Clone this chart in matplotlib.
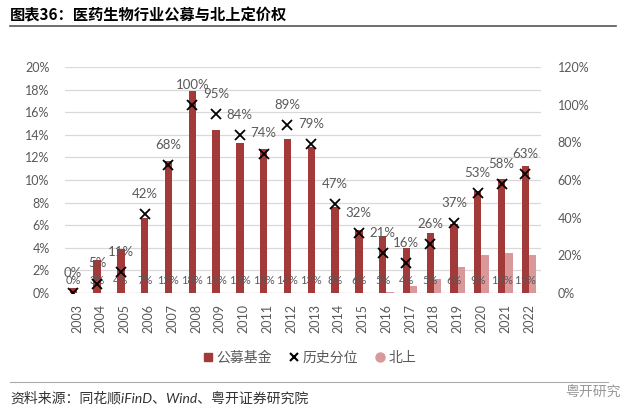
import matplotlib
matplotlib.use('Agg')
import matplotlib.pyplot as plt
from matplotlib.lines import Line2D
import numpy as np

plt.rcParams['font.family'] = ['Lato', 'Noto Sans CJK SC', 'DejaVu Sans']

years = [str(y) for y in range(2003, 2023)]
# 公募基金持仓占比 (%), left axis
fund = [0.4, 2.9, 3.9, 6.6, 11.7, 17.9, 14.4, 13.3, 12.7, 13.6,
        12.9, 7.6, 5.6, 5.0, 4.0, 5.3, 6.1, 9.0, 10.1, 11.2]
# 历史分位 (%), right axis
pct = [0, 5, 11, 42, 68, 100, 95, 84, 74, 89,
       79, 47, 32, 21, 16, 26, 37, 53, 58, 63]
# 北上 (%), left axis
north = [0, 0, 0, 0, 0, 0, 0, 0, 0, 0,
         0, 0, 0, 0.1, 0.65, 1.2, 2.3, 3.4, 3.5, 3.4]

red = '#A33A3A'
pink = '#D9999A'
gray = '#595959'

fig = plt.figure(figsize=(6.4, 4.2), dpi=100)
ax = fig.add_axes([0.1016, 0.3024, 0.7437, 0.5381])
ax2 = ax.twinx()

x = np.arange(len(years))
w = 0.31
ax.bar(x - w / 2, fund, w, color=red, zorder=2)
ax.bar(x + w / 2, north, w, color=pink, zorder=2)
ax2.plot(x - w / 2, pct, 'x', color='black', ms=7, mew=1.3, zorder=3)

for xi, v in zip(x, fund):
    ax.annotate(f"{round(v)}%", (xi - w / 2, 0), xytext=(0, 9), textcoords='offset points',
                ha='center', va='center', fontsize=8, color=gray, zorder=4)
for xi, v in zip(x, pct):
    ax2.annotate(f"{v}%", (xi - w / 2, v), xytext=(0, 14.5), textcoords='offset points',
                 ha='center', va='center', fontsize=9.5, color=gray, zorder=4)

ax.set_xlim(-0.5, len(years) - 0.5)
ax.set_ylim(0, 20)
ax2.set_ylim(0, 120)
ax.set_yticks(np.arange(0, 21, 2))
ax.set_yticklabels([f"{t}%" for t in range(0, 21, 2)])
ax2.set_yticks(np.arange(0, 121, 20))
ax2.set_yticklabels([f"{t}%" for t in range(0, 121, 20)])
ax.set_xticks(x)
ax.set_xticklabels(years, rotation=90)

ax.grid(axis='y', color='#D9D9D9', lw=0.9, zorder=0)
ax.set_axisbelow(True)
for a in (ax, ax2):
    for s in a.spines.values():
        s.set_visible(False)
    a.tick_params(length=0, colors=gray, labelsize=9)
ax.tick_params(axis='y', pad=11)
ax2.tick_params(axis='y', pad=12)
ax.tick_params(axis='x', pad=8)
ax.axhline(0, color='#D9D9D9', lw=0.9, zorder=1)

handles = [Line2D([], [], ls='none', marker='s', color=red, ms=6),
           Line2D([], [], ls='none', marker='x', color='black', ms=6, mew=1.5),
           Line2D([], [], ls='none', marker='o', color=pink, ms=6.5)]
fig.legend(handles, ['公募基金', '历史分位', '北上'], loc='center', bbox_to_anchor=(0.483, 0.15),
           ncol=3, frameon=False, fontsize=10, handlelength=0.8, handletextpad=0.2,
           columnspacing=1.2, labelcolor=gray)

fig.text(0.016, 0.964, '图表36：医药生物行业公募与北上定价权', fontsize=11, fontweight='bold',
         va='center', ha='left', family=['Noto Sans CJK SC'])
fig.add_artist(Line2D([0.016, 0.962], [0.938, 0.938], color='#555555', lw=1.2))
fig.add_artist(Line2D([0.016, 0.95], [0.09, 0.09], color='#AAAAAA', lw=0.8))
fig.text(0.016, 0.052, '资料来源：同花顺iFinD、Wind、粤开证券研究院', fontsize=10, style='italic',
         va='center', ha='left', color='#333333')
fig.text(0.97, 0.066, '粤开研究', fontsize=10, color='#999999', va='center', ha='right')

fig.savefig('out.png', dpi=100)
